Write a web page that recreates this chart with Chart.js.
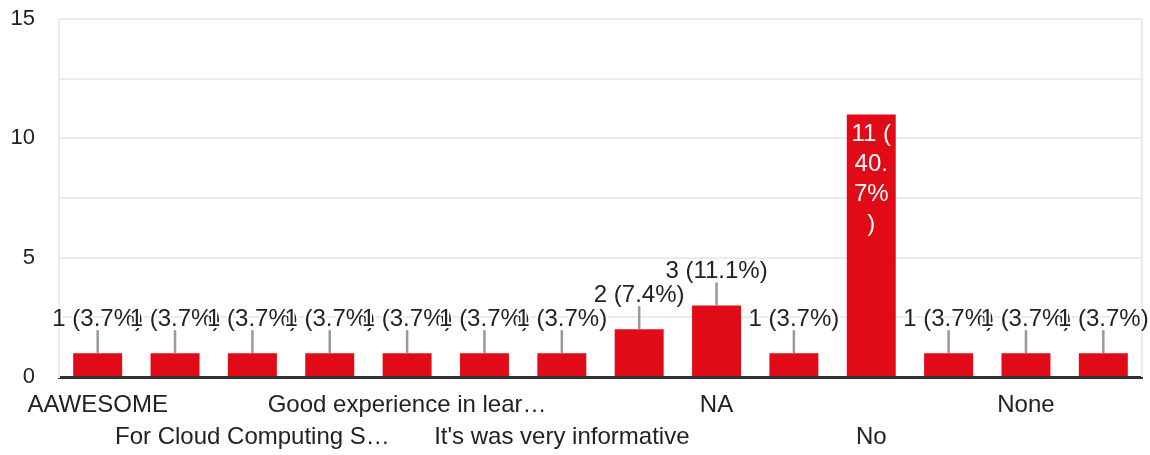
<!DOCTYPE html>
<html>
<head>
<meta charset="utf-8">
<script src="https://cdn.jsdelivr.net/npm/chart.js@4"></script>
<style>
  html, body { margin: 0; padding: 0; background: #fff; }
  #wrap { width: 1150px; height: 455px; }
</style>
</head>
<body>
<div id="wrap"><canvas id="chart"></canvas></div>
<script>
// answers, in the order they appear on the axis (only every other label is shown)
var categories = ['AAWESOME', 'Amazing', 'For Cloud Computing S…', 'Good', 'Good experience in lear…', 'Great',
  "It's was very informative", 'Learned a lot', 'NA', 'Nice', 'No', 'No comments', 'None', 'Nothing'];
var responses = [1, 1, 1, 1, 1, 1, 1, 2, 3, 1, 11, 1, 1, 1];
var yMax = 15;
var yStep = 2.5;     // gridlines every 2.5, labels every 5
var yLabelStep = 5;

var FONT = '"Liberation Sans", Arial, sans-serif';
var TEXT = '#222';
var GRID = '#ebebeb';
var BAR = '#e00b17';

var total = responses.reduce(function (a, b) { return a + b; }, 0);

function wrapChars(ctx, text, maxW) {
  var lines = [];
  var cur = '';
  for (var ch of text) {
    if (cur && ctx.measureText(cur + ch).width > maxW) {
      lines.push(cur);
      cur = ch;
    } else {
      cur += ch;
    }
  }
  if (cur) lines.push(cur);
  return lines;
}

// right border of the plot + value labels with leader lines
var barLabels = {
  id: 'barLabels',
  beforeDatasetsDraw: function (chart) {
    var ctx = chart.ctx, a = chart.chartArea;
    ctx.save();
    ctx.strokeStyle = GRID;
    ctx.lineWidth = 2;
    ctx.beginPath();
    ctx.moveTo(a.right, a.top);
    ctx.lineTo(a.right, a.bottom);
    ctx.stroke();
    ctx.restore();
  },
  afterDatasetsDraw: function (chart) {
    var ctx = chart.ctx;
    var meta = chart.getDatasetMeta(0);
    ctx.save();
    ctx.font = '24px ' + FONT;
    ctx.textAlign = 'center';
    ctx.textBaseline = 'middle';
    ctx.lineJoin = 'round';
    meta.data.forEach(function (bar, i) {
      var v = responses[i];
      var text = v + ' (' + (v / total * 100).toFixed(1) + '%)';
      var h = bar.base - bar.y;
      if (h > 100) {
        var lines = wrapChars(ctx, text, bar.width * 0.85);
        ctx.fillStyle = '#fff';
        lines.forEach(function (ln, k) {
          ctx.fillText(ln, bar.x, bar.y + 20 + k * 30);
        });
        return;
      }
      ctx.strokeStyle = '#999';
      ctx.lineWidth = 2.5;
      ctx.beginPath();
      ctx.moveTo(bar.x, bar.y);
      ctx.lineTo(bar.x, bar.y - 23);
      ctx.stroke();
      var cy = bar.y - 34;
      // white aura round the text
      ctx.strokeStyle = '#fff';
      ctx.lineWidth = 4;
      ctx.strokeText(text, bar.x, cy);
      ctx.fillStyle = TEXT;
      ctx.fillText(text, bar.x, cy);
    });
    ctx.restore();
  }
};

new Chart(document.getElementById('chart'), {
  type: 'bar',
  data: {
    labels: categories,
    datasets: [{
      data: responses,
      backgroundColor: BAR,
      barPercentage: 0.633,
      categoryPercentage: 1
    }]
  },
  options: {
    responsive: true,
    maintainAspectRatio: false,
    animation: false,
    layout: { padding: { top: 19, right: 8, left: 0, bottom: 0 } },
    plugins: {
      legend: { display: false },
      tooltip: { enabled: false }
    },
    scales: {
      x: {
        afterFit: function (scale) { scale.height = 78; },
        grid: { display: true, drawOnChartArea: false, drawTicks: false, color: 'rgba(0,0,0,0)' },
        border: { display: true, color: '#333', width: 3 },
        ticks: {
          autoSkip: false,
          maxRotation: 0,
          minRotation: 0,
          padding: 12,
          color: TEXT,
          font: { family: FONT, size: 24, lineHeight: 1.333 },
          callback: function (value, index) {
            if (index % 2) return '';
            var lbl = this.getLabelForValue(value);
            return index % 4 === 0 ? lbl : ['', lbl];
          }
        }
      },
      y: {
        min: 0,
        max: yMax,
        afterFit: function (scale) { scale.width = 59; },
        grid: {
          drawTicks: true,
          tickLength: 24,
          tickColor: 'rgba(0,0,0,0)',
          lineWidth: 2,
          color: function (c) { return c.tick && c.tick.value === 0 ? 'rgba(0,0,0,0)' : GRID; }
        },
        border: { display: true, color: GRID, width: 2 },
        ticks: {
          stepSize: yStep,
          padding: 0,
          color: TEXT,
          font: { family: FONT, size: 22 },
          callback: function (value) { return value % yLabelStep === 0 ? value : ''; }
        }
      }
    }
  },
  plugins: [barLabels]
});
</script>
</body>
</html>
